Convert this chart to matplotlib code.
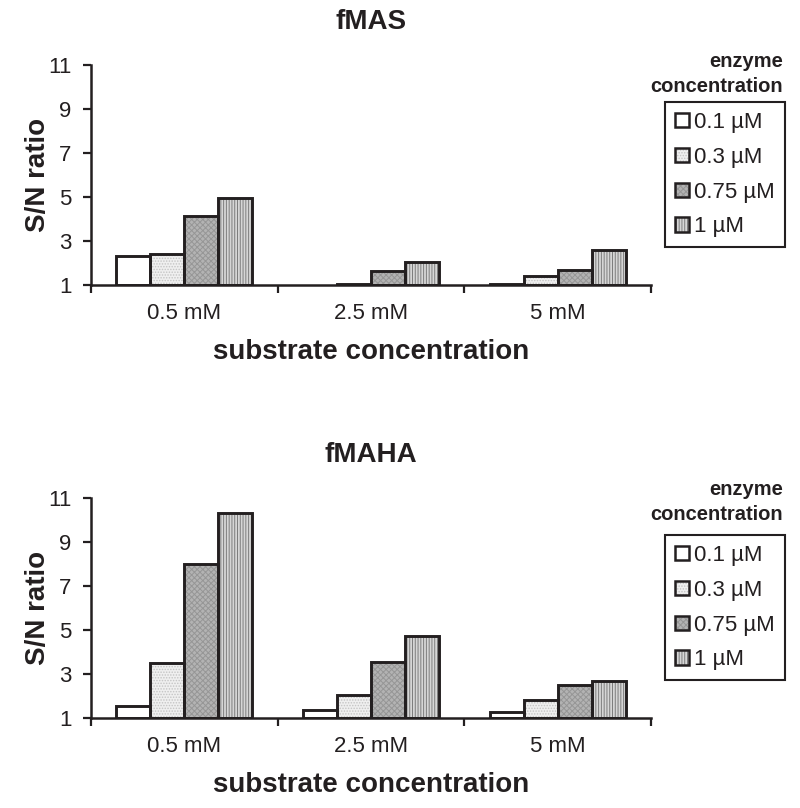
import numpy as np
import matplotlib
matplotlib.use('Agg')
import matplotlib.pyplot as plt
from matplotlib.patches import Patch
from matplotlib.legend_handler import HandlerTuple


SUBSTRATES = ['0.5 mM', '2.5 mM', '5 mM']
ENZYMES = ['0.1 µM', '0.3 µM', '0.75 µM', '1 µM']

# S/N ratio, one list per enzyme concentration (nan = no bar drawn)
fmas_01 = [2.33, np.nan, 1.05]
fmas_03 = [2.42, 1.06, 1.39]
fmas_075 = [4.15, 1.62, 1.70]
fmas_1 = [4.95, 2.03, 2.57]

fmaha_01 = [1.56, 1.35, 1.26]
fmaha_03 = [3.48, 2.03, 1.80]
fmaha_075 = [7.98, 3.55, 2.51]
fmaha_1 = [10.3, 4.75, 2.68]

Y_TICKS = [1, 3, 5, 7, 9, 11]

# face colour, hatch, hatch colour
STYLES = [
    ('white', '', 'white'),
    ('#efefef', '......', '#c4c4c4'),
    ('#b3b3b3', 'xxxxxx', '#969696'),
    ('#d6d6d6', '||||||', '#7c7c7c'),
]

INK = '#231f20'

plt.rcParams['font.family'] = ['Liberation Sans', 'DejaVu Sans']
plt.rcParams['hatch.linewidth'] = 0.7


def bar_panel(ax, series, title):
    x = np.arange(len(SUBSTRATES))
    w = 0.182
    handles = []
    for i, vals in enumerate(series):
        face, hatch, hcol = STYLES[i]
        vals = np.asarray(vals, dtype=float)
        xs = x + (i - 1.5) * w
        ax.bar(xs, vals - 1, bottom=1, width=w, color=face, hatch=hatch,
               edgecolor=hcol, linewidth=0, zorder=2)
        ax.bar(xs, vals - 1, bottom=1, width=w, fill=False,
               edgecolor=INK, linewidth=2.1, zorder=3)
        handles.append((Patch(facecolor=face, hatch=hatch, edgecolor=hcol, linewidth=0),
                        Patch(fill=False, edgecolor=INK, linewidth=1.8)))

    ax.set_xlim(-0.5, 2.5)
    ax.set_ylim(1, 11)
    ax.set_yticks(Y_TICKS)
    ax.set_xticks(x)
    ax.set_xticklabels(SUBSTRATES)
    ax.set_xticks([-0.5, 0.5, 1.5, 2.5], minor=True)
    ax.tick_params(axis='x', which='major', length=0, pad=13, labelsize=16, labelcolor=INK)
    ax.tick_params(axis='x', which='minor', length=6, width=1.6, direction='out', color=INK)
    ax.tick_params(axis='y', length=6, width=1.6, direction='out', pad=8,
                   labelsize=16, labelcolor=INK, color=INK)
    for s in ['top', 'right']:
        ax.spines[s].set_visible(False)
    for s in ['left', 'bottom']:
        ax.spines[s].set_linewidth(1.8)
        ax.spines[s].set_color(INK)

    ax.set_xlabel('substrate concentration', fontsize=20, fontweight='bold', color=INK)
    ax.xaxis.set_label_coords(0.5, -0.305)
    ax.xaxis.label.set_va('center')
    ax.set_ylabel('S/N ratio', fontsize=20, fontweight='bold', color=INK)
    ax.yaxis.set_label_coords(-0.095, 0.5)
    ax.yaxis.label.set_va('center')
    ax.set_title(title, fontsize=20, fontweight='bold', color=INK, y=1.195, va='center', pad=0)
    return handles


fig = plt.figure(figsize=(8, 8.08), dpi=100)
W, H = 800.0, 808.0

ax1 = fig.add_axes([91 / W, 1 - 285 / H, 560 / W, 220 / H])
ax2 = fig.add_axes([91 / W, 1 - 718 / H, 560 / W, 220 / H])

h1 = bar_panel(ax1, [fmas_01, fmas_03, fmas_075, fmas_1], 'fMAS')
h2 = bar_panel(ax2, [fmaha_01, fmaha_03, fmaha_075, fmaha_1], 'fMAHA')

for handles, head_y, box_top in [(h1, 74, 102), (h2, 502, 535)]:
    fig.text(783 / W, 1 - head_y / H, 'enzyme\nconcentration', ha='right', va='center',
             multialignment='right', fontsize=14.5, fontweight='bold', color=INK,
             linespacing=1.4)
    leg = fig.legend(handles, ENZYMES, loc='upper right',
                     bbox_to_anchor=(785 / W, 1 - box_top / H), borderaxespad=0,
                     handler_map={tuple: HandlerTuple(ndivide=1, pad=0)},
                     handlelength=0.6, handleheight=0.6, handletextpad=0.25,
                     labelspacing=0.62, borderpad=0.45, fontsize=16,
                     fancybox=False, framealpha=1, edgecolor=INK, labelcolor=INK)
    leg.get_frame().set_linewidth(1.5)

fig.savefig('out.png', dpi=100)
